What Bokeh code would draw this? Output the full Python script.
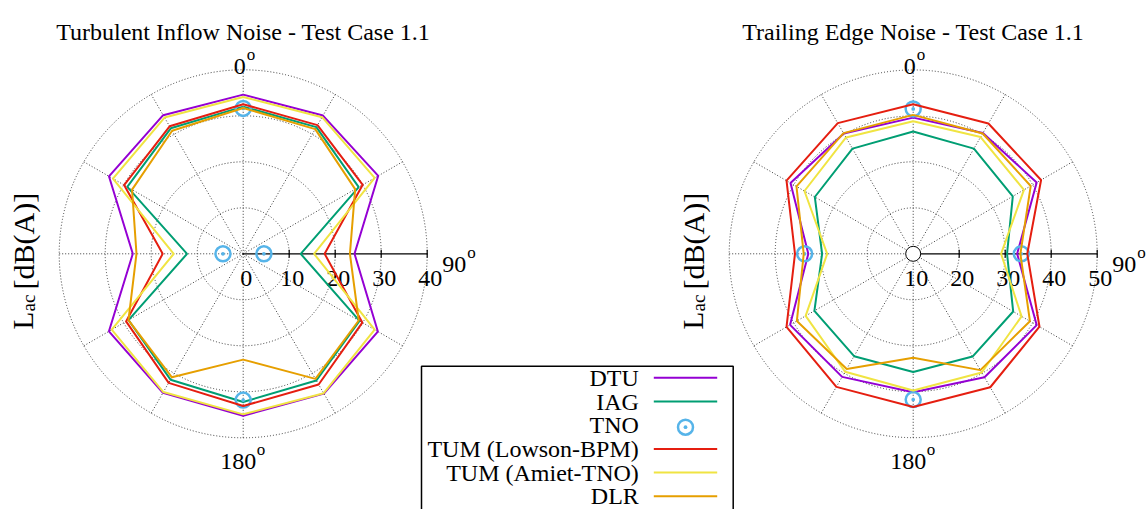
import numpy as np
from bokeh.plotting import figure
from bokeh.models import Range1d
from bokeh.core.properties import value
from bokeh.embed import file_html
from bokeh.resources import INLINE

# ---------------- data ----------------
angles_deg = [0, 30, 60, 90, 120, 150, 180, 210, 240, 270, 300, 330]
tno_angles_deg = [0, 90, 180, 270]

series_names = ["DTU", "IAG", "TNO", "TUM (Lowson-BPM)", "TUM (Amiet-TNO)", "DLR"]
series_colors = ["#9400D3", "#009E73", "#56B4E9", "#E51E10", "#F0E442", "#E69F00"]

# Turbulent inflow noise, test case 1.1 [dB(A)]
inflow_dtu = [34.6, 34.7, 33.9, 24.2, 33.8, 35.1, 35.2, 34.9, 33.7, 24.0, 33.7, 34.8]
inflow_iag = [32.0, 31.8, 29.0, 12.5, 29.2, 31.8, 32.2, 31.6, 28.8, 12.2, 29.1, 31.5]
inflow_tno = [31.6, 4.5, 31.8, 4.4]
inflow_tum_lowson = [32.5, 32.3, 30.0, 17.7, 29.9, 32.8, 33.1, 32.4, 29.4, 17.5, 29.9, 32.0]
inflow_tum_amiet = [34.1, 34.3, 33.0, 15.4, 33.0, 35.0, 34.9, 34.7, 33.0, 15.1, 32.7, 34.2]
inflow_dlr = [31.7, 31.3, 28.1, 23.2, 29.0, 31.4, 23.0, 31.0, 28.8, 23.2, 27.9, 30.9]

# Trailing edge noise, test case 1.1 [dB(A)]
te_dtu = [39.6, 40.3, 41.0, 32.6, 41.0, 41.0, 40.1, 40.9, 40.9, 32.8, 40.8, 40.2]
te_iag = [36.6, 36.4, 35.0, 30.4, 35.1, 35.8, 35.7, 35.7, 34.8, 29.8, 34.7, 36.4]
te_tno = [41.5, 33.5, 41.7, 33.6]
te_tum_lowson = [42.5, 42.7, 42.1, 34.8, 41.7, 43.5, 43.3, 43.4, 41.8, 35.7, 41.8, 42.8]
te_tum_amiet = [38.8, 39.3, 37.8, 29.1, 37.2, 39.8, 39.7, 39.6, 37.0, 28.7, 37.3, 39.2]
te_dlr = [40.2, 40.2, 39.5, 33.3, 39.3, 39.2, 32.6, 38.9, 39.2, 33.8, 39.3, 40.3]

inflow_ticks = [0, 10, 20, 30, 40]
te_ticks = [10, 20, 30, 40, 50]
spoke_angles = [0, 30, 60, 120, 150, 180, 210, 240, 270, 300, 330]

titles = ["Turbulent Inflow Noise - Test Case 1.1", "Trailing Edge Noise - Test Case 1.1"]

# ---------------- layout (pixels -> data units) ----------------
W, H = 1148, 509
U = 4.6                 # pixels per dB
CX0_PX, CY_PX = 242.7, 253.3
CX1_PX = 912.7


def px2x(px):
    return (px - CX0_PX) / U


def py2y(py):
    return (CY_PX - py) / U


SERIF = value("Liberation Serif")
GRID = "#3a3a3a"

p = figure(width=W, height=H, output_backend="svg", toolbar_location=None,
           x_range=Range1d(px2x(0), px2x(W)), y_range=Range1d(py2y(H), py2y(0)),
           x_axis_type=None, y_axis_type=None, min_border=0)
p.grid.visible = False
p.outline_line_color = None
p.background_fill_color = "white"
p.border_fill_color = "white"


def polar_xy(vals, angs, r0, cx, close=True):
    th = np.radians(np.array(angs, dtype=float))
    r = np.array(vals, dtype=float) - r0
    x = cx + r * np.sin(th)
    y = r * np.cos(th)
    if close:
        x = np.append(x, x[0])
        y = np.append(y, y[0])
    return x, y


panels = [
    dict(cx=px2x(CX0_PX), r0=0, ticks=inflow_ticks, title=titles[0],
         data=[inflow_dtu, inflow_iag, inflow_tno, inflow_tum_lowson, inflow_tum_amiet, inflow_dlr],
         center_marker=False),
    dict(cx=px2x(CX1_PX), r0=10, ticks=te_ticks, title=titles[1],
         data=[te_dtu, te_iag, te_tno, te_tum_lowson, te_tum_amiet, te_dlr],
         center_marker=True),
]

RMAX = 40.0
for pan in panels:
    cx = pan["cx"]
    r0 = pan["r0"]
    # grid circles
    radii = [t - r0 for t in pan["ticks"] if t - r0 > 0]
    p.circle(x=[cx] * len(radii), y=[0] * len(radii), radius=radii,
             fill_color=None, line_color=GRID, line_width=1, line_dash="1 2")
    # spokes
    th = np.radians(spoke_angles)
    p.segment(x0=[cx] * len(th), y0=[0] * len(th),
              x1=cx + RMAX * np.sin(th), y1=RMAX * np.cos(th),
              line_color=GRID, line_width=1, line_dash="1 2")
    # radial axis along 90 deg
    p.segment(x0=[cx], y0=[0], x1=[cx + RMAX], y1=[0], line_color="black", line_width=1.2)
    tick_r = [t - r0 for t in pan["ticks"] if t - r0 > 0]
    p.segment(x0=[cx + r for r in tick_r], y0=[-4 / U] * len(tick_r),
              x1=[cx + r for r in tick_r], y1=[4 / U] * len(tick_r),
              line_color="black", line_width=1.2)
    # tick labels
    p.text(x=[cx + (t - r0) + 3 / U for t in pan["ticks"]], y=[py2y(278)] * len(pan["ticks"]),
           text=[str(t) for t in pan["ticks"]], text_align="center", text_baseline="middle",
           text_font=SERIF, text_font_size="24px", text_color="black")
    # angle labels (number + superscript o)
    p.text(x=[cx + 2.5 / U, cx + 13 / U], y=[py2y(66), py2y(461)], text=["0", "180"],
           text_align="right", text_baseline="alphabetic",
           text_font=SERIF, text_font_size="24px", text_color="black")
    p.text(x=[cx + RMAX + 15 / U], y=[py2y(264)], text=["90"],
           text_align="left", text_baseline="alphabetic",
           text_font=SERIF, text_font_size="24px", text_color="black")
    p.text(x=[cx + 3.5 / U, cx + 13.5 / U, cx + RMAX + 40 / U],
           y=[py2y(54), py2y(449), py2y(252)], text=["o", "o", "o"],
           text_align="left", text_baseline="alphabetic",
           text_font=SERIF, text_font_size="17px", text_color="black")
    # title
    p.text(x=[cx], y=[py2y(31)], text=[pan["title"]], text_align="center",
           text_baseline="alphabetic", text_font=SERIF, text_font_size="24px",
           text_color="black")
    # y label (rotated)
    lx = cx - 220 / U
    p.text(x=[lx], y=[py2y(329)], text=["L"], angle=np.pi / 2, text_align="left",
           text_baseline="alphabetic", text_font=SERIF, text_font_size="29px", text_color="black")
    p.text(x=[lx + 5 / U], y=[py2y(311)], text=["ac"], angle=np.pi / 2, text_align="left",
           text_baseline="alphabetic", text_font=SERIF, text_font_size="19px", text_color="black")
    p.text(x=[lx], y=[py2y(289)], text=["[dB(A)]"], angle=np.pi / 2, text_align="left",
           text_baseline="alphabetic", text_font=SERIF, text_font_size="30px", text_color="black")
    # center marker
    if pan["center_marker"]:
        p.scatter(x=[cx], y=[0], marker="circle", size=15, fill_color="white",
                  line_color="black", line_width=1)
    # data series
    for name, col, vals in zip(series_names, series_colors, pan["data"]):
        if name == "TNO":
            x, y = polar_xy(vals, tno_angles_deg, r0, cx, close=False)
            p.scatter(x=x, y=y, marker="circle_dot", size=15, fill_color=None,
                      line_color=col, line_width=2.5)
        else:
            x, y = polar_xy(vals, angles_deg, r0, cx)
            p.line(x=x, y=y, line_color=col, line_width=2)

# ---------------- legend (drawn manually: label then sample) ----------------
p.quad(left=[px2x(421)], right=[px2x(732.7)], top=[py2y(365.7)], bottom=[py2y(530)],
       fill_color="white", line_color="black", line_width=1.5)
row_y = [377.3, 401.0, 424.7, 448.4, 472.1, 495.8]
p.text(x=[px2x(638.3)] * 6, y=[py2y(v) for v in row_y], text=series_names,
       text_align="right", text_baseline="middle", text_font=SERIF,
       text_font_size="24px", text_color="black")
for name, col, ry in zip(series_names, series_colors, row_y):
    if name == "TNO":
        p.scatter(x=[px2x(685)], y=[py2y(ry + 2)], marker="circle_dot", size=15,
                  fill_color=None, line_color=col, line_width=2.5)
    else:
        p.segment(x0=[px2x(653.3)], y0=[py2y(ry)], x1=[px2x(716.7)], y1=[py2y(ry)],
                  line_color=col, line_width=2)

open("out.html", "w").write(file_html(p, INLINE))
